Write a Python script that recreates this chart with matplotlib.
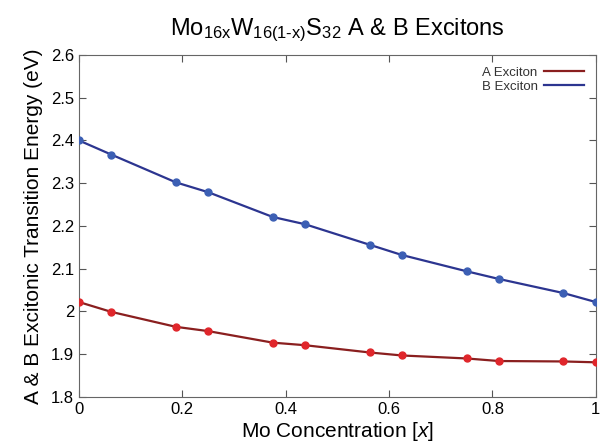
import matplotlib
matplotlib.use('Agg')
import matplotlib.pyplot as plt

plt.rcParams['font.family'] = ['Liberation Sans', 'DejaVu Sans']
plt.rcParams['mathtext.fontset'] = 'custom'
plt.rcParams['mathtext.rm'] = 'Liberation Sans'
plt.rcParams['mathtext.it'] = 'Liberation Sans:italic'

# Mo concentration x = n/16
conc = [0, 0.0625, 0.1875, 0.25, 0.375, 0.4375, 0.5625, 0.625, 0.75, 0.8125, 0.9375, 1.0]
a_exciton = [2.022, 1.999, 1.964, 1.954, 1.927, 1.921, 1.904, 1.897, 1.890, 1.884, 1.883, 1.881]
b_exciton = [2.400, 2.367, 2.302, 2.279, 2.221, 2.204, 2.156, 2.132, 2.094, 2.076, 2.043, 2.022]

fig = plt.figure(figsize=(6.03, 4.47), dpi=100)
ax = fig.add_axes([0.131, 0.112, 0.857, 0.765])

ax.plot(conc, a_exciton, '-', color='#8a1f1f', lw=1.6, label='A Exciton', zorder=2)
ax.plot(conc, a_exciton, 'o', color='#e0262b', ms=5, zorder=3)
ax.plot(conc, b_exciton, '-', color='#2c3590', lw=1.6, label='B Exciton', zorder=2)
ax.plot(conc, b_exciton, 'o', color='#3c5fb4', ms=5, zorder=3)

ax.set_xlim(0, 1)
ax.set_ylim(1.8, 2.6)
ax.set_xticks([0, 0.2, 0.4, 0.6, 0.8, 1])
ax.set_xticklabels(['0', '0.2', '0.4', '0.6', '0.8', '1'])
ax.set_yticks([1.8, 1.9, 2.0, 2.1, 2.2, 2.3, 2.4, 2.5, 2.6])
ax.set_yticklabels(['1.8', '1.9', '2', '2.1', '2.2', '2.3', '2.4', '2.5', '2.6'])
ax.tick_params(direction='in', top=True, right=True, labelsize=12, length=5, color='#555555')
for s in ax.spines.values():
    s.set_color('#666666')

ax.set_xlabel('Mo Concentration [$\\mathit{x}$]', fontsize=15, labelpad=2)
ax.set_ylabel('A & B Excitonic Transition Energy (eV)', fontsize=15, labelpad=6)
ax.set_title('Mo$\\mathregular{_{16x}}$W$\\mathregular{_{16(1\\text{-}x)}}$S$\\mathregular{_{32}}$ A & B Excitons',
             fontsize=17, pad=14)

leg = ax.legend(loc='upper right', frameon=False, markerfirst=False, fontsize=9.5,
                handlelength=3, labelspacing=0.1, borderaxespad=0.5, handletextpad=0.5)
for t in leg.get_texts():
    t.set_color('#333333')

fig.savefig('out.png', dpi=100)
